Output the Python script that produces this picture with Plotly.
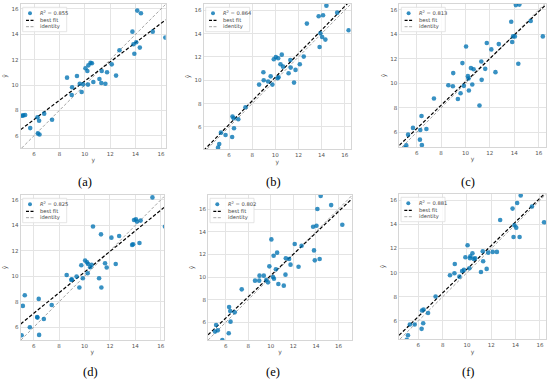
import numpy as np
import plotly.graph_objects as go

# ---------------- data ----------------
y_true = [5.05, 5.15, 5.3, 5.7, 6.27, 6.3, 6.4, 6.43, 6.8, 7.42,
          8.6, 8.97, 9.0, 9.38, 9.6, 9.75, 9.87, 10.05, 10.2, 10.25,
          10.28, 10.45, 10.56, 10.67, 11.15, 11.3, 11.33, 11.62, 11.75, 12.12,
          12.46, 12.73, 13.75, 13.83, 13.9, 14.05, 14.13, 14.33, 14.42, 15.35,
          16.34]

pred_a = [7.58, 7.6, 7.63, 6.6, 7.45, 6.18, 7.18, 6.1, 7.74, 7.26,
          10.58, 9.21, 9.82, 10.71, 10.1, 9.45, 10.05, 11.32, 11.1, 10.03,
          11.55, 11.76, 11.71, 10.24, 10.47, 10.16, 11.1, 10.1, 11.0, 11.63,
          10.74, 12.74, 14.21, 13.21, 12.47, 13.37, 15.87, 12.95, 15.66, 14.21,
          13.74]
pred_b = [4.23, 4.54, 5.51, 5.31, 5.14, 6.89, 6.74, 5.89, 6.66, 7.69,
          9.63, 10.69, 10.0, 9.89, 10.34, 9.63, 11.8, 12.0, 10.17, 11.89,
          10.26, 11.37, 12.2, 11.17, 10.6, 11.74, 11.09, 9.8, 10.89, 11.37,
          12.03, 14.86, 15.49, 12.86, 14.03, 13.71, 15.57, 13.49, 16.4, 15.8,
          14.29]
pred_c = [4.72, 4.93, 5.81, 6.36, 5.4, 6.19, 7.34, 4.96, 6.27, 8.76,
          9.85, 9.77, 10.84, 8.73, 9.2, 11.66, 9.8, 13.02, 10.59, 10.4,
          9.42, 11.25, 9.91, 11.16, 8.19, 11.79, 10.29, 11.19, 13.3, 12.78,
          10.92, 13.21, 15.04, 13.38, 13.84, 13.84, 16.4, 11.6, 16.44, 15.1,
          13.84]
pred_d = [5.37, 7.68, 8.51, 6.0, 6.81, 6.76, 8.23, 5.4, 6.65, 7.75,
          10.11, 9.72, 9.77, 9.98, 9.12, 10.87, 9.85, 11.24, 11.1, 10.24,
          10.97, 10.71, 10.9, 13.91, 9.85, 13.3, 9.12, 11.03, 10.69, 13.04,
          10.97, 13.17, 12.47, 12.52, 14.43, 14.48, 14.3, 12.62, 14.38, 16.2,
          13.91]
pred_e = [5.18, 5.76, 5.29, 4.44, 5.03, 7.35, 7.0, 6.06, 6.88, 8.91,
          9.68, 9.68, 10.12, 10.12, 9.74, 9.53, 10.94, 13.32, 10.0, 11.88,
          9.85, 10.68, 12.15, 9.38, 9.24, 10.21, 11.65, 11.59, 11.09, 12.91,
          10.91, 12.76, 14.44, 12.35, 11.47, 14.53, 16.0, 11.59, 17.15, 16.35,
          14.62]
pred_f = [4.43, 4.81, 5.7, 5.7, 5.34, 6.86, 5.81, 6.94, 6.66, 8.02,
          9.78, 9.95, 10.72, 9.67, 10.14, 10.23, 11.28, 12.27, 10.36, 11.19,
          11.36, 11.61, 11.14, 11.2, 10.06, 11.77, 10.94, 10.31, 11.66, 11.72,
          11.72, 14.37, 15.31, 12.96, 13.93, 13.73, 15.78, 12.96, 16.39, 15.48,
          14.18]

r2_values = [0.855, 0.864, 0.813, 0.825, 0.802, 0.881]
panel_labels = ["(a)", "(b)", "(c)", "(d)", "(e)", "(f)"]
tick_values = [6, 8, 10, 12, 14, 16]

predictions = [pred_a, pred_b, pred_c, pred_d, pred_e, pred_f]

# ---------------- layout constants ----------------
W, H = 550, 381
# plot areas in pixels: (left, top, right, bottom)
boxes = [
    (20.7, 4, 165.7, 148),
    (203.7, 4, 350.7, 149),
    (399.3, 4, 546, 147),
    (20.7, 195, 164, 340),
    (208, 195, 352, 340),
    (399, 194, 546, 339),
]
x_ranges = [(4.95, 16.37), (3.81, 16.52), (4.58, 16.6), (4.98, 16.26), (4.43, 17.2), (4.41, 16.5)]
y_ranges = [(5.03, 16.39), (4.11, 16.54), (4.8, 16.49), (5.0, 16.39), (4.44, 17.24), (4.5, 16.52)]
label_pos = [(85, 182), (273, 182), (468, 182), (90, 372), (273, 372), (468, 372)]

PT_COLOR = "#0072B2"
GRID = "#e4e4e4"
SPINE = "#d6d6d6"
TICK_COLOR = "#555555"
FONT = "DejaVu Sans"

def px(x):
    return x / W

def py(y):
    return 1 - y / H

fig = go.Figure()
shapes = []
annotations = []

for i in range(6):
    n = "" if i == 0 else str(i + 1)
    xa, ya = "x" + n, "y" + n
    l, t, r, b = boxes[i]
    x0, x1 = x_ranges[i]
    y0, y1 = y_ranges[i]
    yt = np.array(y_true)
    yp = np.array(predictions[i])

    # identity line across the common interval of the axes
    lo, hi = max(x0, y0), min(x1, y1)
    fig.add_trace(go.Scatter(x=[lo, hi], y=[lo, hi], mode="lines", xaxis=xa, yaxis=ya,
                             line=dict(color="#9a9a9a", width=0.9, dash="3px,2px"),
                             showlegend=False, hoverinfo="skip"))
    # best fit line
    m, c = np.polyfit(yt, yp, 1)
    bx = np.array([x0, x1])
    fig.add_trace(go.Scatter(x=bx, y=m * bx + c, mode="lines", xaxis=xa, yaxis=ya,
                             line=dict(color="black", width=1.2, dash="3.5px,2px"),
                             showlegend=False, hoverinfo="skip"))
    # points
    fig.add_trace(go.Scatter(x=yt, y=yp, mode="markers", xaxis=xa, yaxis=ya,
                             marker=dict(color=PT_COLOR, size=4.6, opacity=0.78, line=dict(width=0)),
                             showlegend=False, cliponaxis=True))

    axis_common = dict(showgrid=True, gridcolor=GRID, gridwidth=1, zeroline=False,
                       showline=True, linecolor=SPINE, linewidth=1, mirror=True,
                       ticks="", tickvals=tick_values,
                       tickfont=dict(family=FONT, size=5.5, color=TICK_COLOR))
    fig.update_layout(**{
        "xaxis" + n: dict(domain=[px(l), px(r)], range=[x0, x1], anchor=ya,
                          title=dict(text="y", font=dict(family=FONT, size=6, color=TICK_COLOR), standoff=2),
                          **axis_common),
        "yaxis" + n: dict(domain=[py(b), py(t)], range=[y0, y1], anchor=xa,
                          title=dict(text="ŷ", font=dict(family=FONT, size=6, color=TICK_COLOR), standoff=3),
                          **axis_common),
    })

    # legend (drawn as decoration)
    shapes.append(dict(type="rect", xref="paper", yref="paper", layer="above",
                       x0=px(l + 2), x1=px(l + 46), y0=py(t + 27.7), y1=py(t + 3.3),
                       fillcolor="rgba(255,255,255,0.85)", line=dict(color="#dddddd", width=0.8)))
    shapes.append(dict(type="circle", xref="paper", yref="paper", layer="above",
                       x0=px(l + 7.3), x1=px(l + 11.3), y0=py(t + 11.3), y1=py(t + 7.3),
                       fillcolor=PT_COLOR, opacity=0.8, line=dict(width=0)))
    shapes.append(dict(type="line", xref="paper", yref="paper", layer="above",
                       x0=px(l + 5.3), x1=px(l + 12.8), y0=py(t + 16.3), y1=py(t + 16.3),
                       line=dict(color="black", width=1.2, dash="3px,1.5px")))
    shapes.append(dict(type="line", xref="paper", yref="paper", layer="above",
                       x0=px(l + 5.3), x1=px(l + 12.8), y0=py(t + 22.7), y1=py(t + 22.7),
                       line=dict(color="#9a9a9a", width=0.9, dash="3px,1.5px")))
    for txt, dy in [("<i>R</i><sup>2</sup> = %.3f" % r2_values[i], 9.3), ("best fit", 16.3), ("identity", 22.7)]:
        annotations.append(dict(text=txt, xref="paper", yref="paper", x=px(l + 17.5), y=py(t + dy),
                                xanchor="left", yanchor="middle", showarrow=False,
                                font=dict(family=FONT, size=5.2, color="#444444")))
    # panel label
    lx, ly = label_pos[i]
    annotations.append(dict(text=panel_labels[i], xref="paper", yref="paper", x=px(lx), y=py(ly),
                            xanchor="center", yanchor="middle", showarrow=False,
                            font=dict(family="Liberation Serif", size=12.5, color="black")))

fig.update_layout(width=W, height=H, margin=dict(l=0, r=0, t=0, b=0),
                  paper_bgcolor="white", plot_bgcolor="white",
                  shapes=shapes, annotations=annotations, showlegend=False)

fig.write_html("out.html",
               config={"displayModeBar": False},
               post_script="document.body.style.margin='0';document.body.style.padding='0';")
